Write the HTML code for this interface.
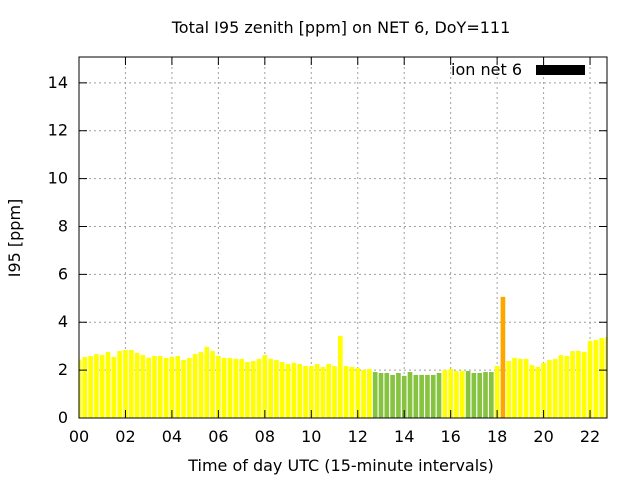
<!DOCTYPE html>
<html><head><meta charset="utf-8"><style>
body{margin:0;background:#fff}
svg text{font-family:"DejaVu Sans","Liberation Sans",sans-serif;font-size:16px;fill:#000}
</style></head><body>
<svg id="chart" width="640" height="480" xmlns="http://www.w3.org/2000/svg">
<rect width="640" height="480" fill="#fff"/>
<g id="grid"></g><g id="bars"></g><g id="axes"></g>
<text x="341" y="33" text-anchor="middle">Total I95 zenith [ppm] on NET 6, DoY=111</text>
<text x="341" y="471" text-anchor="middle">Time of day UTC (15-minute intervals)</text>
<text transform="translate(20,238) rotate(-90)" text-anchor="middle">I95 [ppm]</text>
<g>
<text x="522" y="75" text-anchor="end">ion net 6</text>
<rect x="536" y="65" width="49" height="10" fill="#000"/>
</g>
</svg>
<script>
const values=[2.45,2.55,2.59,2.67,2.63,2.76,2.55,2.80,2.84,2.84,2.72,2.63,2.52,2.59,2.59,2.51,2.55,2.59,2.42,2.51,2.67,2.76,2.97,2.80,2.59,2.51,2.51,2.47,2.47,2.34,2.38,
2.47,2.63,2.47,2.42,2.34,2.26,2.30,2.26,2.17,2.17,2.26,2.13,2.26,2.17,3.43,2.17,2.13,2.09,2.01,2.05,
1.92,1.88,1.88,1.80,1.88,1.76,1.92,1.80,1.80,1.80,1.80,1.88,2.01,2.05,1.96,1.96,1.96,1.88,1.88,1.92,1.92,2.17,5.06,
2.38,2.51,2.47,2.47,2.21,2.13,2.30,2.42,2.47,2.63,2.59,2.80,2.80,2.76,3.22,3.26,3.34,3.38];
const levels=[0,0,0,0,0,0,0,0,0,0,0,0,0,0,0,0,0,0,0,0,0,0,0,0,0,0,0,0,0,0,0,
0,0,0,0,0,0,0,0,0,0,0,0,0,0,0,0,0,0,0,0,
1,1,1,1,1,1,1,1,1,1,1,1,0,0,0,0,1,1,1,1,1,0,2,
0,0,0,0,0,0,0,0,0,0,0,0,0,0,0,0,0,0];
const yTicks=[0,2,4,6,8,10,12,14];
const xTicks=["00","02","04","06","08","10","12","14","16","18","20","22"];
const colors=["#ffff00","#85c340","#ffa500"];
const L=79,R=607,T=57,B=418,YMAX=15.08,XMAX=22.73;
const sx=h=>L+h/XMAX*(R-L), sy=v=>B-v/YMAX*(B-T);
const NS="http://www.w3.org/2000/svg";
function mk(p,tag,a){const e=document.createElementNS(NS,tag);for(const k in a)e.setAttribute(k,a[k]);p.appendChild(e);return e;}
const grid=document.getElementById('grid'),bars=document.getElementById('bars'),axes=document.getElementById('axes');
yTicks.forEach(v=>{const y=sy(v);
 if(v>0){const g=mk(grid,'line',{x1:L,x2:R,y1:y,y2:y,stroke:'#a0a0a0','stroke-dasharray':'2,3'});
 
 }
 mk(axes,'line',{x1:L,x2:L+8,y1:y,y2:y,stroke:'#000'});
 mk(axes,'line',{x1:R,x2:R-8,y1:y,y2:y,stroke:'#000'});
 const t=mk(axes,'text',{x:L-11,y:y+5,'text-anchor':'end'});t.textContent=v;
 
 
});
xTicks.forEach((s,i)=>{const x=sx(i*2);
 if(i>0){const g=mk(grid,'line',{x1:x,x2:x,y1:T,y2:B,stroke:'#a0a0a0','stroke-dasharray':'2,3'});
 
 }
 mk(axes,'line',{x1:x,x2:x,y1:B,y2:B-8,stroke:'#000'});
 mk(axes,'line',{x1:x,x2:x,y1:T,y2:T+8,stroke:'#000'});
 const t=mk(axes,'text',{x:x,y:B+24,'text-anchor':'middle'});t.textContent=s;
 
 
});
const bw=0.2/XMAX*(R-L);
values.forEach((v,i)=>{const c=sx(i*0.25);let x0=Math.max(L,c-bw/2),x1=Math.min(R,c+bw/2);
 const r=mk(bars,'rect',{x:x0,y:sy(v),width:x1-x0,height:B-sy(v),fill:colors[levels[i]]});
 
 
});
const f=mk(axes,'rect',{x:L,y:T,width:R-L,height:B-T,fill:'none',stroke:'#000','stroke-width':1});


</script>
</body></html>
